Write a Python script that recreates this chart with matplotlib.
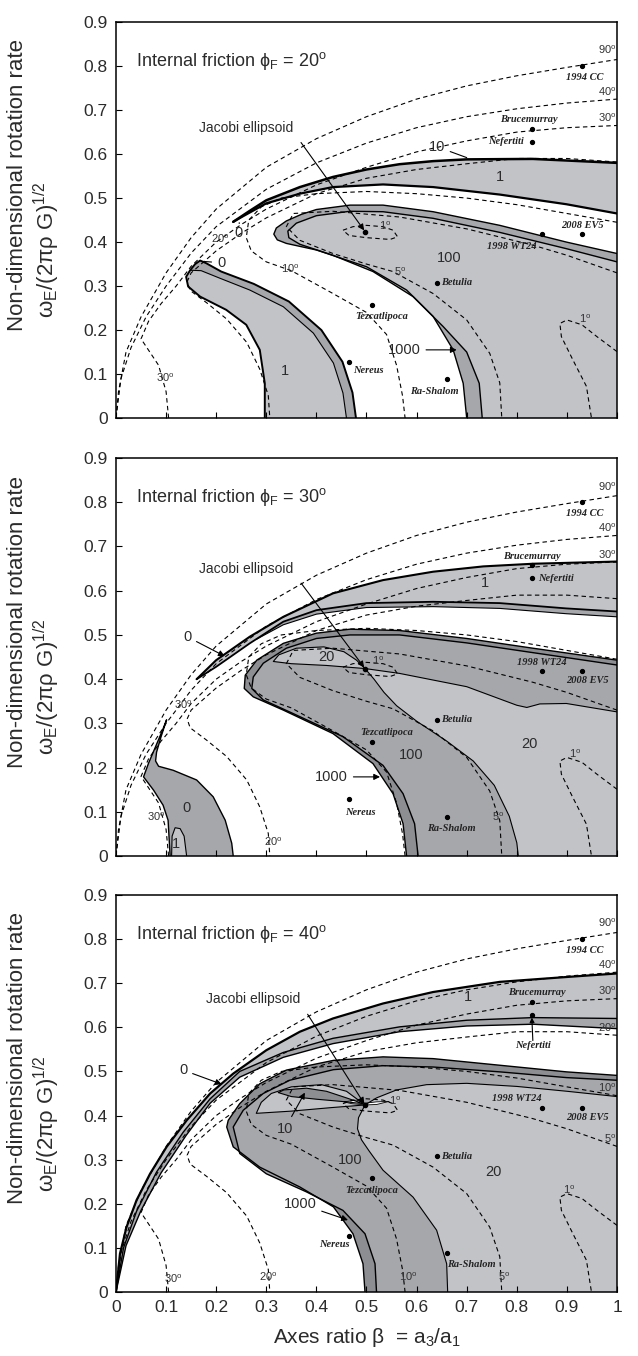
import numpy as np
import matplotlib.pyplot as plt

plt.rcParams['font.family'] = ['Liberation Sans', 'DejaVu Sans']
plt.rcParams['mathtext.fontset'] = 'custom'
plt.rcParams['mathtext.rm'] = 'Liberation Sans'
plt.rcParams['mathtext.it'] = 'Liberation Sans:italic'

LIGHT, MED, DARK = '#c2c3c7', '#a6a7ab', '#8d8e92'

# ---- dashed contour lines (same in all panels), (beta, omega) ----
c90 = [(0, 0), (0.005, 0.06), (0.02, 0.15), (0.05, 0.23), (0.1, 0.33), (0.15, 0.41), (0.2, 0.475),
       (0.3, 0.57), (0.4, 0.635), (0.5, 0.685), (0.6, 0.725), (0.7, 0.755), (0.8, 0.778), (0.9, 0.797), (1.0, 0.815)]
c40 = [(0, 0), (0.01, 0.09), (0.03, 0.16), (0.06, 0.23), (0.1, 0.30), (0.15, 0.375), (0.2, 0.435),
       (0.3, 0.52), (0.4, 0.58), (0.5, 0.625), (0.6, 0.66), (0.7, 0.685), (0.8, 0.703), (0.9, 0.716), (1.0, 0.725)]
c30 = [(0.105, 0), (0.1, 0.06), (0.085, 0.12), (0.05, 0.18), (0.065, 0.22), (0.09, 0.26), (0.12, 0.30),
       (0.15, 0.345), (0.2, 0.40), (0.25, 0.44), (0.3, 0.475), (0.4, 0.53), (0.5, 0.57), (0.6, 0.605),
       (0.7, 0.63), (0.8, 0.65), (0.9, 0.66), (1.0, 0.665)]
c20 = [(1.0, 0.582), (0.9, 0.59), (0.8, 0.59), (0.7, 0.578), (0.6, 0.565), (0.5, 0.545), (0.4, 0.51),
       (0.3, 0.455), (0.25, 0.42), (0.2, 0.38), (0.17, 0.35), (0.15, 0.33), (0.142, 0.31), (0.148, 0.29),
       (0.181, 0.262), (0.221, 0.225), (0.261, 0.172), (0.287, 0.111), (0.304, 0.051), (0.307, 0)]
c10 = [(1.0, 0.445), (0.9, 0.465), (0.8, 0.485), (0.7, 0.50), (0.6, 0.51), (0.5, 0.515), (0.4, 0.51),
       (0.33, 0.50), (0.29, 0.48), (0.265, 0.45), (0.26, 0.41), (0.27, 0.38), (0.30, 0.355), (0.35, 0.335),
       (0.43, 0.285), (0.5, 0.24), (0.54, 0.19), (0.56, 0.12), (0.572, 0.05), (0.577, 0)]
c5 = [(1.0, 0.33), (0.9, 0.37), (0.832, 0.393), (0.7, 0.43), (0.566, 0.457), (0.433, 0.47), (0.354, 0.465),
      (0.34, 0.435), (0.367, 0.404), (0.433, 0.374), (0.5, 0.35), (0.553, 0.333), (0.633, 0.283),
      (0.70, 0.223), (0.746, 0.147), (0.766, 0.08), (0.77, 0)]
c1_loop = [(0.453, 0.427), (0.473, 0.435), (0.5, 0.438), (0.533, 0.435), (0.553, 0.427), (0.562, 0.412),
           (0.547, 0.406), (0.5, 0.41), (0.465, 0.415), (0.453, 0.427)]
c1_corner = [(1.0, 0.151), (0.96, 0.185), (0.93, 0.212), (0.90, 0.223), (0.886, 0.215), (0.889, 0.185),
             (0.912, 0.132), (0.939, 0.072), (0.949, 0)]

# ---- asteroids ----
ast_names = ['1994 CC', 'Brucemurray', 'Nefertiti', '1998 WT24', '2008 EV5',
             'Betulia', 'Tezcatlipoca', 'Nereus', 'Ra-Shalom']
ast_beta = [0.93, 0.83, 0.83, 0.85, 0.93, 0.64, 0.51, 0.465, 0.66]
ast_omega = [0.80, 0.658, 0.628, 0.418, 0.418, 0.308, 0.258, 0.128, 0.088]
jacobi = (0.497, 0.424)

# ---- panel 1 (phi = 20) regions ----
p1_band_top = [(0.234, 0.446), (0.267, 0.471), (0.30, 0.495), (0.367, 0.525), (0.433, 0.548), (0.5, 0.565),
               (0.566, 0.577), (0.633, 0.584), (0.70, 0.588), (0.832, 0.589), (1.0, 0.58)]
p1_band_bot = [(0.234, 0.446), (0.254, 0.459), (0.30, 0.488), (0.367, 0.51), (0.433, 0.525), (0.533, 0.531),
               (0.633, 0.525), (0.766, 0.508), (0.899, 0.486), (1.0, 0.465)]
p1_lobe_left = [(0.297, 0), (0.297, 0.079), (0.287, 0.155), (0.26, 0.212), (0.22, 0.246), (0.168, 0.276),
                (0.144, 0.299), (0.14, 0.321), (0.148, 0.336), (0.158, 0.350), (0.168, 0.358)]
p1_lobe_right = [(0.168, 0.358), (0.18, 0.352), (0.21, 0.333), (0.275, 0.305), (0.345, 0.265), (0.41, 0.2),
                 (0.452, 0.128), (0.472, 0.058), (0.479, 0)]
p1_lobe_inner = [(0.148, 0.336), (0.17, 0.335), (0.207, 0.318), (0.267, 0.291), (0.334, 0.253), (0.394, 0.193),
                 (0.434, 0.125), (0.453, 0.057), (0.46, 0)]
p1_big_outer = [(0.70, 0), (0.693, 0.079), (0.673, 0.155), (0.633, 0.231), (0.58, 0.291), (0.5, 0.344),
                (0.40, 0.382), (0.34, 0.397), (0.322, 0.405), (0.315, 0.418), (0.32, 0.432), (0.34, 0.448),
                (0.37, 0.463), (0.40, 0.474), (0.467, 0.484), (0.533, 0.484), (0.633, 0.469), (0.766, 0.438),
                (0.899, 0.40), (1.0, 0.374)]
p1_big_inner = [(0.731, 0), (0.725, 0.079), (0.70, 0.15), (0.653, 0.208), (0.593, 0.276), (0.513, 0.333),
                (0.433, 0.37), (0.367, 0.395), (0.345, 0.41), (0.343, 0.425), (0.36, 0.443), (0.40, 0.46),
                (0.467, 0.47), (0.533, 0.469), (0.633, 0.454), (0.766, 0.422), (0.899, 0.385), (1.0, 0.355)]

# ---- panel 2 (phi = 30) regions ----
p2_band_top = [(0.161, 0.40), (0.20, 0.443), (0.267, 0.496), (0.334, 0.541), (0.433, 0.594), (0.533, 0.624),
               (0.633, 0.643), (0.733, 0.655), (0.832, 0.661), (1.0, 0.666)]
p2_band_bot = [(0.161, 0.40), (0.20, 0.428), (0.267, 0.481), (0.334, 0.53), (0.40, 0.556), (0.5, 0.572),
               (0.633, 0.575), (0.766, 0.572), (0.899, 0.56), (1.0, 0.553)]
p2_band_strip = [(0.28, 0.49), (0.334, 0.523), (0.40, 0.547), (0.5, 0.562), (0.633, 0.564), (0.766, 0.56),
                 (0.899, 0.548), (1.0, 0.541)]
p2_lobe = [(0.108, 0), (0.104, 0.081), (0.094, 0.115), (0.075, 0.149), (0.055, 0.179), (0.065, 0.21),
           (0.08, 0.25), (0.093, 0.285), (0.101, 0.308), (0.09, 0.27), (0.081, 0.235), (0.079, 0.215),
           (0.085, 0.203), (0.114, 0.194), (0.161, 0.172), (0.194, 0.134), (0.218, 0.081), (0.231, 0.029),
           (0.234, 0)]
p2_lobe_inner = [(0.111, 0), (0.112, 0.045), (0.118, 0.064), (0.128, 0.062), (0.136, 0.045), (0.141, 0)]
p2_big_outer = [(0.58, 0), (0.573, 0.073), (0.553, 0.141), (0.513, 0.209), (0.433, 0.277), (0.334, 0.33),
                (0.274, 0.36), (0.256, 0.379), (0.258, 0.409), (0.281, 0.443), (0.334, 0.481), (0.40, 0.504),
                (0.467, 0.513), (0.566, 0.51), (0.70, 0.492), (0.832, 0.47), (1.0, 0.443)]
p2_big_inner = [(0.603, 0), (0.596, 0.073), (0.573, 0.141), (0.533, 0.205), (0.453, 0.27), (0.354, 0.322),
                (0.294, 0.353), (0.271, 0.379), (0.274, 0.405), (0.294, 0.436), (0.34, 0.47), (0.40, 0.492),
                (0.467, 0.50), (0.566, 0.50), (0.70, 0.482), (0.832, 0.46), (1.0, 0.432)]
p2_light = [(0.803, 0), (0.8, 0.03), (0.785, 0.09), (0.755, 0.16), (0.713, 0.215), (0.66, 0.26), (0.60, 0.305),
            (0.56, 0.34), (0.535, 0.37), (0.515, 0.40), (0.497, 0.424), (0.566, 0.413), (0.70, 0.383),
            (0.80, 0.341), (0.82, 0.336), (0.846, 0.344), (0.899, 0.345), (1.0, 0.326)]
p2_light_lobe = [(0.497, 0.424), (0.48, 0.443), (0.455, 0.462), (0.415, 0.473), (0.36, 0.47), (0.325, 0.455),
                 (0.314, 0.44), (0.35, 0.435), (0.42, 0.431), (0.497, 0.424)]

# ---- panel 3 (phi = 40) regions ----
p3_band_top = [(0, 0), (0.008, 0.087), (0.021, 0.147), (0.041, 0.208), (0.068, 0.268), (0.101, 0.329),
               (0.141, 0.389), (0.188, 0.45), (0.234, 0.495), (0.30, 0.548), (0.367, 0.59), (0.433, 0.62),
               (0.533, 0.654), (0.633, 0.68), (0.766, 0.703), (0.899, 0.714), (1.0, 0.722)]
p3_band_mid = [(0, 0), (0.015, 0.10), (0.041, 0.183), (0.081, 0.272), (0.134, 0.362), (0.188, 0.438),
               (0.247, 0.50), (0.334, 0.543), (0.433, 0.575), (0.566, 0.601), (0.70, 0.616), (0.832, 0.622),
               (1.0, 0.62)]
p3_band_bot = [(0, 0), (0.02, 0.105), (0.05, 0.185), (0.09, 0.27), (0.14, 0.355), (0.188, 0.428),
               (0.247, 0.487), (0.334, 0.532), (0.433, 0.563), (0.566, 0.59), (0.70, 0.603), (0.832, 0.607),
               (1.0, 0.597)]
p3_big_outer = [(0.497, 0), (0.493, 0.064), (0.473, 0.132), (0.434, 0.193), (0.367, 0.238), (0.287, 0.283),
                (0.234, 0.329), (0.221, 0.374), (0.224, 0.389), (0.247, 0.427), (0.287, 0.472), (0.34, 0.503),
                (0.434, 0.525), (0.533, 0.533), (0.633, 0.529), (0.766, 0.514), (0.899, 0.499), (1.0, 0.491)]
p3_big_inner = [(0.52, 0), (0.517, 0.064), (0.497, 0.132), (0.453, 0.185), (0.38, 0.227), (0.30, 0.268),
                (0.247, 0.314), (0.234, 0.374), (0.254, 0.412), (0.294, 0.45), (0.347, 0.48), (0.434, 0.504),
                (0.533, 0.513), (0.633, 0.51), (0.766, 0.499), (0.899, 0.486), (1.0, 0.48)]
p3_light = [(0.662, 0), (0.66, 0.064), (0.64, 0.14), (0.593, 0.215), (0.533, 0.276), (0.505, 0.32),
            (0.49, 0.345), (0.482, 0.37), (0.484, 0.395), (0.497, 0.424), (0.52, 0.44), (0.56, 0.458),
            (0.62, 0.47), (0.70, 0.473), (0.80, 0.466), (0.90, 0.455), (1.0, 0.443)]
p3_light_lobe = [(0.497, 0.424), (0.46, 0.455), (0.41, 0.47), (0.35, 0.465), (0.31, 0.45), (0.29, 0.43),
                 (0.28, 0.405), (0.35, 0.41), (0.43, 0.418), (0.497, 0.424)]
p3_dark_lobe = [(0.324, 0.452), (0.335, 0.458), (0.38, 0.462), (0.42, 0.455), (0.46, 0.44), (0.493, 0.427),
                (0.45, 0.432), (0.40, 0.437), (0.35, 0.443), (0.324, 0.452)]
p3_lens = [(0.455, 0.431), (0.48, 0.435), (0.497, 0.428), (0.52, 0.431), (0.545, 0.432), (0.52, 0.425),
           (0.497, 0.424), (0.47, 0.427), (0.455, 0.431)]

yticks = np.arange(0, 0.91, 0.1)
ytick_labels = ['0', '0.1', '0.2', '0.3', '0.4', '0.5', '0.6', '0.7', '0.8', '0.9']
xticks = np.arange(0, 1.01, 0.1)
xtick_labels = ['0', '0.1', '0.2', '0.3', '0.4', '0.5', '0.6', '0.7', '0.8', '0.9', '1']

TXT = '#2b2b2b'


def xy(pts):
    return np.array(pts, dtype=float).T


def fill(ax, pts, color, zorder=1):
    ax.fill(*xy(pts), facecolor=color, edgecolor='none', zorder=zorder)


def line(ax, pts, lw=0.8, zorder=4):
    ax.plot(*xy(pts), color='k', lw=lw, zorder=zorder, solid_capstyle='round')


def deg(ax, x, y, s, **kw):
    ax.text(x, y, s + r'$^{\rm o}$', fontsize=8, color='#333333', zorder=6, **kw)


def label(ax, x, y, s, arrow_to=None, head=True, fs=10.5):
    if arrow_to is None:
        ax.text(x, y, s, fontsize=fs, ha='center', va='center', color=TXT, zorder=7)
    else:
        style = '-|>' if head else '-'
        ax.annotate(s, xy=arrow_to, xytext=(x, y), fontsize=fs, ha='center', va='center', color=TXT,
                    zorder=7, arrowprops=dict(arrowstyle=style, color='k', lw=0.8, mutation_scale=9,
                                              shrinkA=2, shrinkB=0))


def contours(ax):
    for c in [c90, c40, c30, c20, c10, c5, c1_loop, c1_corner]:
        ax.plot(*xy(c), color='k', lw=0.8, dashes=(4, 3), zorder=3)
    deg(ax, 0.998, 0.822, '90', ha='right', va='bottom')


def asteroids(ax, offsets):
    ax.plot(ast_beta, ast_omega, 'o', color='k', ms=2.8, zorder=8)
    ax.plot([jacobi[0]], [jacobi[1]], 'o', color='k', ms=3, zorder=8)
    for name, b, w in zip(ast_names, ast_beta, ast_omega):
        dx, dy, ha = offsets[name]
        ax.text(b + dx, w + dy, name, fontsize=7.5, family='Liberation Serif', fontweight='bold',
                fontstyle='italic', color='#222222', ha=ha, va='center', zorder=8)


def frame(ax, title, bottom):
    ax.set_xlim(0, 1)
    ax.set_ylim(0, 0.9)
    ax.set_yticks(yticks)
    ax.set_yticklabels(ytick_labels, fontsize=12.5, color=TXT)
    ax.set_xticks(xticks)
    if bottom:
        ax.set_xticklabels(xtick_labels, fontsize=12.5, color=TXT)
    else:
        ax.set_xticklabels([])
    ax.tick_params(direction='in', length=4, width=0.8, top=False, right=False, pad=6)
    for s in ax.spines.values():
        s.set_linewidth(1.1)
    ax.text(0.04, 0.80, title, fontsize=13, color=TXT, zorder=7)


def jacobi_arrow(ax, tx, ty):
    ax.annotate('Jacobi ellipsoid', xy=jacobi, xytext=(tx, ty), fontsize=10, ha='center', va='center',
                color=TXT, zorder=7,
                arrowprops=dict(arrowstyle='-|>', color='k', lw=0.8, mutation_scale=9,
                                shrinkA=6, shrinkB=1, relpos=(1.0, 0.2)))


fig = plt.figure(figsize=(6.38, 13.56), dpi=100)
ax1 = fig.add_axes([0.1818, 0.6917, 0.7853, 0.2920])
ax2 = fig.add_axes([0.1818, 0.3687, 0.7853, 0.2935])
ax3 = fig.add_axes([0.1818, 0.0472, 0.7853, 0.2928])

# ---------------- panel 1 ----------------
ax = ax1
fill(ax, p1_band_top + p1_band_bot[::-1], LIGHT)
fill(ax, p1_lobe_left + p1_lobe_right, MED)
fill(ax, p1_lobe_left[:9] + p1_lobe_inner, LIGHT)
fill(ax, p1_big_outer + [(1.0, 0.0)], MED)
fill(ax, p1_big_inner + [(1.0, 0.0)], LIGHT)
contours(ax)
line(ax, p1_band_top, lw=1.8)
line(ax, p1_band_bot, lw=1.6)
line(ax, p1_lobe_left + p1_lobe_right, lw=1.4)
line(ax, p1_lobe_inner)
line(ax, p1_big_outer, lw=1.0)
line(ax, p1_big_inner, lw=1.0)
label(ax, 0.64, 0.617, '10', arrow_to=(0.70, 0.592), head=False)
label(ax, 0.766, 0.548, '1')
label(ax, 0.245, 0.42, '0', arrow_to=(0.246, 0.444), head=False)
label(ax, 0.21, 0.353, '0', arrow_to=(0.175, 0.356), head=False)
label(ax, 0.337, 0.106, '1')
label(ax, 0.666, 0.363, '100')
label(ax, 0.575, 0.155, '1000', arrow_to=(0.68, 0.155))
jacobi_arrow(ax, 0.26, 0.66)
deg(ax, 0.998, 0.728, '40', ha='right', va='bottom')
deg(ax, 0.998, 0.668, '30', ha='right', va='bottom')
deg(ax, 0.19, 0.397, '20')
deg(ax, 0.33, 0.33, '10')
deg(ax, 0.555, 0.322, '5')
deg(ax, 0.525, 0.427, '1')
deg(ax, 0.925, 0.215, '1')
deg(ax, 0.08, 0.083, '30')
asteroids(ax, {'1994 CC': (0.005, -0.026, 'center'), 'Brucemurray': (-0.005, 0.02, 'center'),
               'Nefertiti': (-0.015, 0.0, 'right'), '1998 WT24': (-0.06, -0.028, 'center'),
               '2008 EV5': (0.0, 0.02, 'center'), 'Betulia': (0.008, 0.0, 'left'),
               'Tezcatlipoca': (0.02, -0.027, 'center'), 'Nereus': (0.008, -0.02, 'left'),
               'Ra-Shalom': (-0.025, -0.028, 'center')})
frame(ax, r'Internal friction ϕ$_{\rm F}$ = 20$^{\rm o}$', False)

# ---------------- panel 2 ----------------
ax = ax2
fill(ax, p2_band_top + p2_band_bot[::-1], LIGHT)
fill(ax, p2_band_bot[2:] + p2_band_strip[::-1], MED)
fill(ax, p2_lobe, MED)
fill(ax, p2_lobe_inner, LIGHT)
fill(ax, p2_big_outer + [(1.0, 0.0)], DARK)
fill(ax, p2_big_inner + [(1.0, 0.0)], MED)
fill(ax, p2_light + [(1.0, 0.0)], LIGHT)
fill(ax, p2_light_lobe, LIGHT)
contours(ax)
line(ax, p2_band_top, lw=1.5)
line(ax, p2_band_bot, lw=1.3)
line(ax, p2_band_strip, lw=0.8)
line(ax, p2_lobe, lw=1.0)
line(ax, p2_lobe_inner)
line(ax, p2_big_outer, lw=1.0)
line(ax, p2_big_inner, lw=1.0)
line(ax, p2_light)
line(ax, p2_light_lobe)
label(ax, 0.736, 0.617, '1')
label(ax, 0.142, 0.496, '0', arrow_to=(0.217, 0.452))
label(ax, 0.14, 0.108, '0')
label(ax, 0.12, 0.027, '1')
label(ax, 0.42, 0.451, '20')
label(ax, 0.59, 0.228, '100')
label(ax, 0.826, 0.254, '20')
label(ax, 0.43, 0.179, '1000', arrow_to=(0.527, 0.179))
jacobi_arrow(ax, 0.26, 0.65)
deg(ax, 0.998, 0.728, '40', ha='right', va='bottom')
deg(ax, 0.998, 0.668, '30', ha='right', va='bottom')
deg(ax, 0.115, 0.333, '30')
deg(ax, 0.062, 0.08, '30')
deg(ax, 0.295, 0.022, '20')
deg(ax, 0.75, 0.08, '5')
deg(ax, 0.51, 0.432, '1')
deg(ax, 0.905, 0.222, '1')
asteroids(ax, {'1994 CC': (0.005, -0.026, 'center'), 'Brucemurray': (0.0, 0.02, 'center'),
               'Nefertiti': (0.012, 0.0, 'left'), '1998 WT24': (0.0, 0.02, 'center'),
               '2008 EV5': (0.01, -0.022, 'center'), 'Betulia': (0.008, 0.0, 'left'),
               'Tezcatlipoca': (0.03, 0.022, 'center'), 'Nereus': (0.022, -0.03, 'center'),
               'Ra-Shalom': (0.01, -0.025, 'center')})
frame(ax, r'Internal friction ϕ$_{\rm F}$ = 30$^{\rm o}$', False)

# ---------------- panel 3 ----------------
ax = ax3
fill(ax, p3_band_top + p3_band_mid[::-1], LIGHT)
fill(ax, p3_band_mid + p3_band_bot[::-1], MED)
fill(ax, p3_big_outer + [(1.0, 0.0)], DARK)
fill(ax, p3_big_inner + [(1.0, 0.0)], MED)
fill(ax, p3_light + [(1.0, 0.0)], LIGHT)
fill(ax, p3_light_lobe, LIGHT)
fill(ax, p3_dark_lobe, DARK)
fill(ax, p3_lens, 'white', zorder=2)
contours(ax)
line(ax, p3_band_top, lw=1.6)
line(ax, p3_band_mid, lw=1.0)
line(ax, p3_band_bot, lw=1.0)
line(ax, p3_big_outer, lw=1.0)
line(ax, p3_big_inner, lw=1.0)
line(ax, p3_light)
line(ax, p3_light_lobe)
line(ax, p3_dark_lobe)
line(ax, p3_lens, lw=0.6)
label(ax, 0.703, 0.669, '1')
label(ax, 0.134, 0.503, '0', arrow_to=(0.211, 0.471))
label(ax, 0.337, 0.37, '10', arrow_to=(0.377, 0.452))
label(ax, 0.467, 0.299, '100')
label(ax, 0.753, 0.272, '20')
label(ax, 0.367, 0.2, '1000', arrow_to=(0.463, 0.163))
jacobi_arrow(ax, 0.274, 0.665)
deg(ax, 0.998, 0.728, '40', ha='right', va='bottom')
deg(ax, 0.998, 0.668, '30', ha='right', va='bottom')
deg(ax, 0.998, 0.585, '20', ha='right', va='bottom')
deg(ax, 0.998, 0.448, '10', ha='right', va='bottom')
deg(ax, 0.998, 0.333, '5', ha='right', va='bottom')
deg(ax, 0.545, 0.425, '1')
deg(ax, 0.892, 0.222, '1')
deg(ax, 0.095, 0.02, '30')
deg(ax, 0.285, 0.025, '20')
deg(ax, 0.565, 0.025, '10')
deg(ax, 0.762, 0.025, '5')
asteroids(ax, {'1994 CC': (0.005, -0.026, 'center'), 'Brucemurray': (0.01, 0.02, 'center'),
               'Nefertiti': (0.002, -0.07, 'center'), '1998 WT24': (-0.05, 0.02, 'center'),
               '2008 EV5': (0.01, -0.022, 'center'), 'Betulia': (0.008, 0.0, 'left'),
               'Tezcatlipoca': (0.0, -0.027, 'center'), 'Nereus': (-0.03, -0.02, 'center'),
               'Ra-Shalom': (0.05, -0.025, 'center')})
ax.annotate('', xy=(0.83, 0.622), xytext=(0.832, 0.57),
            arrowprops=dict(arrowstyle='-|>', color='k', lw=0.8, mutation_scale=7, shrinkA=0, shrinkB=0),
            zorder=8)
frame(ax, r'Internal friction ϕ$_{\rm F}$ = 40$^{\rm o}$', True)
ax.set_xlabel(r'Axes ratio β  = a$_3$/a$_1$', fontsize=15, labelpad=8, color=TXT)

# y labels (two lines, per panel)
for top_px, bot_px in [(22, 418), (458, 856), (895, 1292)]:
    mid = 1 - (top_px + bot_px) / 2 / 1356
    fig.text(18 / 638, mid + 35 / 1356, 'Non-dimensional rotation rate', rotation=90,
             fontsize=16, ha='center', va='center', color=TXT)
    fig.text(47 / 638, mid - 30 / 1356, r'ω$_{\rm E}$/(2πρ G)$^{1/2}$', rotation=90,
             fontsize=16, ha='center', va='center', color=TXT)

fig.savefig('out.png', dpi=100)
